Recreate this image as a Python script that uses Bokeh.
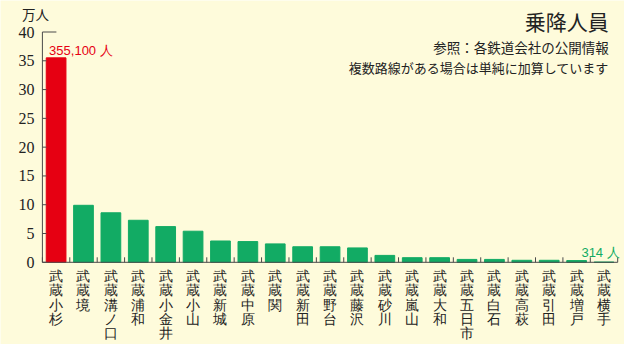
from bokeh.plotting import figure
from bokeh.models import Range1d, ColumnDataSource, LabelSet, Label
from bokeh.embed import file_html
from bokeh.resources import INLINE

stations = ["武蔵小杉", "武蔵境", "武蔵溝ノ口", "武蔵浦和", "武蔵小金井", "武蔵小山",
            "武蔵新城", "武蔵中原", "武蔵関", "武蔵新田", "武蔵野台", "武蔵藤沢",
            "武蔵砂川", "武蔵嵐山", "武蔵大和", "武蔵五日市", "武蔵白石", "武蔵高萩",
            "武蔵引田", "武蔵増戸", "武蔵横手"]
riders = [35.51, 9.9, 8.6, 7.3, 6.2, 5.4, 3.7, 3.6, 3.2, 2.7, 2.7, 2.5,
          1.2, 0.8, 0.8, 0.5, 0.5, 0.35, 0.35, 0.3, 0.0314]
y_ticks = [0, 5, 10, 15, 20, 25, 30, 35, 40]
y_tick_labels = ["0", "5", "10", "15", "20", "25", "30", "35", "40"]
top_label = "355,100 人"
bottom_label = "314 人"
title = "乗降人員"
note1 = "参照：各鉄道会社の公開情報"
note2 = "複数路線がある場合は単純に加算しています"
unit = "万人"

BG = "#FEFBDB"
GREEN = "#12AB64"
RED = "#E60012"
TXT = "#222222"
AX = "#4A4A4A"
JP = "Noto Sans CJK JP"

W, H = 624, 344
n = len(stations)
# screen geometry of the plotting area inside the canvas
left_px, right_px = 41.9, 617.2
zero_px, top_px = 261.8, 31.5   # from the top of the canvas
ymax = y_ticks[-1]
ppx = (right_px - left_px) / n            # pixels per category
ppy = (zero_px - top_px) / ymax           # pixels per unit

x0 = -left_px / ppx
x1 = n + (W - right_px) / ppx
y0 = -(H - zero_px) / ppy
y1 = ymax + top_px / ppy

p = figure(width=W, height=H, x_range=Range1d(x0, x1), y_range=Range1d(y0, y1),
           output_backend="svg", toolbar_location=None,
           x_axis_location=None, y_axis_location=None,
           min_border=0, min_border_left=0, min_border_right=0,
           min_border_top=0, min_border_bottom=0)
p.background_fill_color = BG
p.border_fill_color = BG
p.outline_line_color = None
p.grid.visible = False

xs = [i + 0.5 for i in range(n)]
colors = [RED] + [GREEN] * (n - 1)
p.vbar(x=xs, top=riders, width=0.72, color=colors)

# axis lines
p.segment(x0=[0, 0], y0=[0, 0], x1=[0, n], y1=[ymax, 0], line_color=AX, line_width=1)
# y ticks (inward), with a longer cap at the top
tick_len = [4 / ppx] * (len(y_ticks) - 1) + [14 / ppx]
p.segment(x0=[0] * len(y_ticks), y0=y_ticks, x1=tick_len, y1=y_ticks,
          line_color=AX, line_width=1)
# x ticks at category boundaries (inward)
bounds = list(range(n + 1))
p.segment(x0=bounds, y0=[0] * len(bounds), x1=bounds, y1=[5 / ppy] * len(bounds),
          line_color=AX, line_width=1)

# y tick labels
ysrc = ColumnDataSource(dict(x=[0] * len(y_ticks), y=y_ticks, text=y_tick_labels))
p.add_layout(LabelSet(x="x", y="y", text="text", source=ysrc, x_offset=-8,
                      text_align="right", text_baseline="middle",
                      text_font="DejaVu Sans", text_font_size="16px", text_color=TXT))

# vertical station labels, one character per row
cx, cy, ct, co = [], [], [], []
for i, s in enumerate(stations):
    for j, ch in enumerate(s):
        cx.append(xs[i])
        cy.append(0)
        ct.append(ch)
        co.append(-(6.5 + j * 14.4))
src = ColumnDataSource(dict(x=cx, y=cy, text=ct, yo=co))
p.add_layout(LabelSet(x="x", y="y", text="text", y_offset="yo", source=src,
                      text_align="center", text_baseline="top",
                      text_font=JP, text_font_size="14px", text_color=TXT))

p.add_layout(Label(x=xs[0], y=riders[0], text=top_label, x_offset=-7, y_offset=7,
                   text_align="left", text_baseline="alphabetic",
                   text_font="Liberation Sans", text_font_size="13px", text_color=RED))
p.add_layout(Label(x=n, y=0, text=bottom_label, x_offset=2, y_offset=9.5,
                   text_align="right", text_baseline="alphabetic",
                   text_font="Liberation Sans", text_font_size="13px", text_color=GREEN))

p.add_layout(Label(x=n, y=ymax, text=title, x_offset=-9, y_offset=top_px - 20,
                   text_align="right", text_baseline="middle",
                   text_font=JP, text_font_size="21px", text_color=TXT))
p.add_layout(Label(x=n, y=ymax, text=note1, x_offset=-9, y_offset=top_px - 46.8,
                   text_align="right", text_baseline="middle",
                   text_font=JP, text_font_size="13.5px", text_color=TXT))
p.add_layout(Label(x=n, y=ymax, text=note2, x_offset=-9, y_offset=top_px - 66.9,
                   text_align="right", text_baseline="middle",
                   text_font=JP, text_font_size="13px", text_color=TXT))
p.add_layout(Label(x=0, y=ymax, text=unit, x_offset=-7, y_offset=top_px - 13.4,
                   text_align="center", text_baseline="middle",
                   text_font=JP, text_font_size="13.5px", text_color=TXT))

open("out.html", "w").write(file_html(p, INLINE))
